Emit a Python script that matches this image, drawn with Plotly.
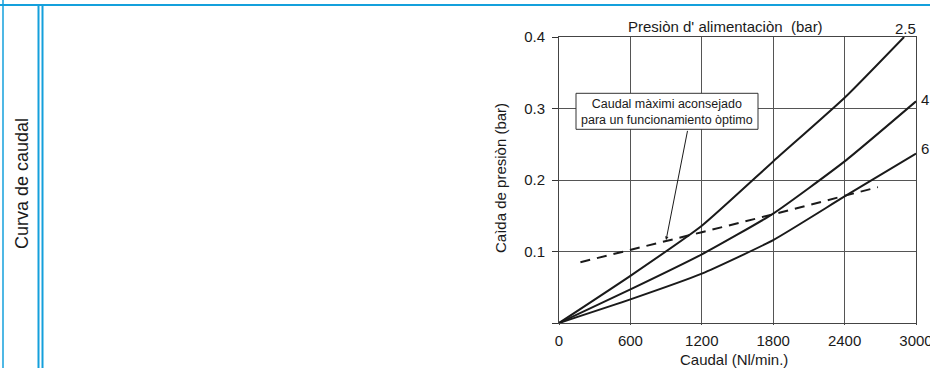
import plotly.graph_objects as go

# ---- data ----
p25_x = [0, 600, 1200, 1800, 2400, 2900]
p25_y = [0, 0.066, 0.136, 0.226, 0.315, 0.400]
p4_x = [0, 600, 1200, 1800, 2400, 3000]
p4_y = [0, 0.047, 0.096, 0.153, 0.226, 0.310]
p6_x = [0, 600, 1200, 1800, 2400, 3000]
p6_y = [0, 0.033, 0.069, 0.116, 0.177, 0.237]
max_x = [180, 600, 1200, 1800, 2400, 2680]
max_y = [0.085, 0.102, 0.127, 0.152, 0.178, 0.190]
x_ticks = [0, 600, 1200, 1800, 2400, 3000]
y_ticks = [0.1, 0.2, 0.3, 0.4]
curve_labels = ["2.5", "4", "6"]

FONT = "Liberation Sans, Arial, Helvetica, sans-serif"
BLUE = "#14a0dc"
INK = "#1a1a1a"

W, H = 930, 368
L, R, T, B = 559, 14, 37, 45
PW, PH = W - L - R, H - T - B


def px(x):
    return (x - L) / PW


def py(y):
    return (H - B - y) / PH


fig = go.Figure()
for xs, ys in [(p25_x, p25_y), (p4_x, p4_y), (p6_x, p6_y)]:
    fig.add_trace(go.Scatter(x=xs, y=ys, mode="lines",
                             line=dict(color=INK, width=2, shape="spline", smoothing=0.5),
                             showlegend=False, hoverinfo="skip"))
fig.add_trace(go.Scatter(x=max_x, y=max_y, mode="lines",
                         line=dict(color=INK, width=2, dash="10px,7px"),
                         showlegend=False, hoverinfo="skip"))

shapes = []
# blue frame lines
shapes.append(dict(type="line", xref="paper", yref="paper", x0=px(0), x1=px(W),
                   y0=py(5), y1=py(5), line=dict(color=BLUE, width=2)))
shapes.append(dict(type="line", xref="paper", yref="paper", x0=px(3), x1=px(3),
                   y0=py(0), y1=py(H), line=dict(color=BLUE, width=1.5)))
for xx in (38.5, 42.5):
    shapes.append(dict(type="line", xref="paper", yref="paper", x0=px(xx), x1=px(xx),
                       y0=py(6), y1=py(H + 2), line=dict(color=BLUE, width=2)))
# annotation box
shapes.append(dict(type="rect", xref="paper", yref="paper", x0=px(576), x1=px(758),
                   y0=py(129.3), y1=py(93.3), fillcolor="white",
                   line=dict(color="#333", width=1), layer="above"))


def txt(x, y, text, size=15, angle=0, xanchor="center"):
    return dict(xref="paper", yref="paper", x=px(x), y=py(y), showarrow=False,
                text=text, textangle=angle, xanchor=xanchor, yanchor="middle",
                font=dict(family=FONT, size=size, color=INK))


annotations = [
    txt(667, 111.5, "Caudal màximi aconsejado<br>para un funcionamiento òptimo", size=12.5),
    dict(x=900, y=0.116, xref="x", yref="y", ax=21.7, ay=-110.7, text="",
         showarrow=True, arrowhead=2, arrowsize=0.7, arrowwidth=1, arrowcolor=INK),
    txt(725, 27, "Presiòn d' alimentaciòn  (bar)"),
    txt(905, 28, curve_labels[0]),
    txt(925, 99, curve_labels[1]),
    txt(925, 148, curve_labels[2]),
    txt(734, 359, "Caudal (Nl/min.)"),
    txt(500, 178, "Caìda de presiòn (bar)", angle=-90),
    txt(22, 184, "Curva de caudal", size=18, angle=-90),
]
annotations[0]["align"] = "center"

fig.update_layout(
    width=W, height=H, margin=dict(l=L, r=R, t=T, b=B, pad=0, autoexpand=False),
    paper_bgcolor="white", plot_bgcolor="white",
    shapes=shapes, annotations=annotations,
    font=dict(family=FONT, size=15, color=INK),
)
fig.update_xaxes(range=[0, 3000], tickvals=x_ticks, ticktext=[str(v) for v in x_ticks],
                 showgrid=True, gridcolor="#555", gridwidth=1, zeroline=False,
                 showline=True, linecolor="#444", linewidth=1, mirror=True,
                 ticks="outside", ticklen=1, tickcolor="#444", ticklabeloverflow="allow",
                 ticklabelstandoff=3, automargin=False,
                 tickfont=dict(family=FONT, size=15, color=INK), fixedrange=True)
fig.update_yaxes(range=[0, 0.4], tickvals=[0] + y_ticks, ticktext=[""] + [str(v) for v in y_ticks],
                 showgrid=True, gridcolor="#555", gridwidth=1, zeroline=False,
                 showline=True, linecolor="#444", linewidth=1, mirror=True,
                 ticks="outside", ticklen=6, tickcolor="#333", ticklabelstandoff=4,
                 automargin=False,
                 tickfont=dict(family=FONT, size=15, color=INK), fixedrange=True)

fig.write_html("out.html", config={"displayModeBar": False})
